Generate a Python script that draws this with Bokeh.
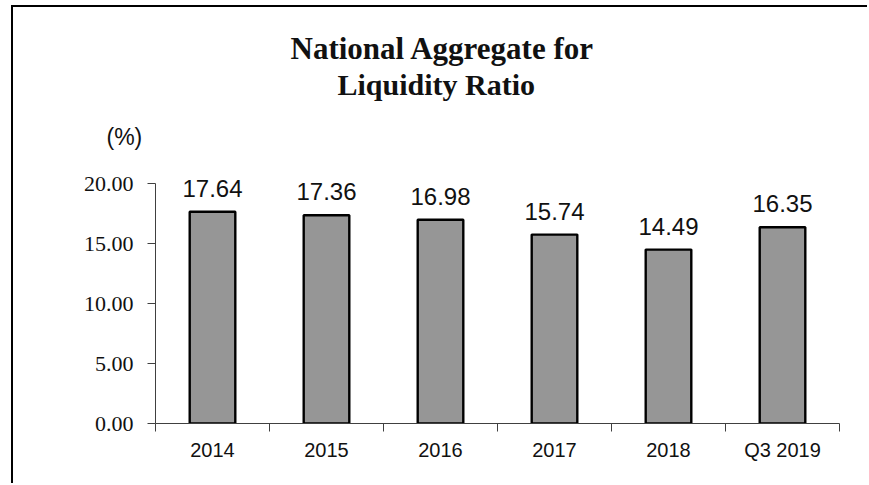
from bokeh.plotting import figure
from bokeh.models import ColumnDataSource, FixedTicker, PrintfTickFormatter, LabelSet, Range1d, Title
from bokeh.core.properties import value
from bokeh.embed import file_html
from bokeh.resources import INLINE

categories = ["2014", "2015", "2016", "2017", "2018", "Q3 2019"]
values = [17.64, 17.36, 16.98, 15.74, 14.49, 16.35]
value_labels = ["17.64", "17.36", "16.98", "15.74", "14.49", "16.35"]
y_ticks = [0, 5, 10, 15, 20]
title_lines = ["National Aggregate for", "Liquidity Ratio"]
unit_label = "(%)"

centers = [i + 0.5 for i in range(len(categories))]
bounds = [i for i in range(len(categories) + 1)]

src = ColumnDataSource(dict(x=centers, top=values, label=value_labels))

W, H = 856, 478
ML, MT = 142, 164          # frame left / top inside canvas
FW, FH = 684, 252          # frame size
p = figure(width=W, height=H, output_backend="svg", toolbar_location=None,
           title=None, x_range=Range1d(0, len(categories)), y_range=Range1d(0, 21),
           min_border_left=ML, min_border_right=W - ML - FW, min_border_top=MT,
           min_border_bottom=H - MT - FH)
p.styles = {"border-top": "2px solid black", "border-left": "2px solid black",
            "margin-top": "5px", "margin-left": "11px"}
p.outline_line_color = None
p.grid.visible = False
p.background_fill_color = "white"
p.border_fill_color = "white"

p.vbar(x="x", top="top", width=0.4, bottom=0, source=src,
       fill_color="#969696", line_color="black", line_width=2.4)

p.add_layout(LabelSet(x="x", y="top", text="label", source=src, y_offset=15,
                      text_align="center", text_baseline="alphabetic",
                      text_font=value("Liberation Sans"), text_font_size=value("24px"),
                      text_color="#111111"))

ax = p.yaxis[0]
ax.ticker = FixedTicker(ticks=y_ticks)
ax.formatter = PrintfTickFormatter(format="%.2f")
ax.bounds = (0, 20)
ax.major_tick_out = 8
ax.major_tick_in = 0
ax.minor_tick_out = 0
ax.minor_tick_in = 0
ax.major_label_standoff = 14
ax.major_label_text_font = "Liberation Serif"
ax.major_label_text_font_size = "22px"
ax.major_label_text_color = "#111111"
ax.axis_line_color = "#404040"
ax.major_tick_line_color = "#404040"

bx = p.xaxis[0]
bx.ticker = FixedTicker(ticks=centers, minor_ticks=bounds)
bx.major_label_overrides = {c: cat for c, cat in zip(centers, categories)}
bx.major_tick_out = 0
bx.major_tick_in = 0
bx.minor_tick_out = 8
bx.minor_tick_in = 0
bx.major_label_standoff = 7
bx.major_label_text_font = "Liberation Sans"
bx.major_label_text_font_size = "20px"
bx.major_label_text_color = "#111111"
bx.axis_line_color = "#404040"
bx.minor_tick_line_color = "#404040"

# headings as titles stacked above the frame (first added = nearest the frame)
p.add_layout(Title(text=unit_label, align="left", offset=-49, standoff=43,
                   text_font="Liberation Sans", text_font_style="normal",
                   text_font_size="23px", text_color="#111111"), "above")
p.add_layout(Title(text=title_lines[1], align="left", offset=182, standoff=0,
                   text_font="Liberation Serif", text_font_style="bold",
                   text_font_size="30px", text_color="#111111"), "above")
p.add_layout(Title(text=title_lines[0], align="left", offset=135, standoff=0,
                   text_font="Liberation Serif", text_font_style="bold",
                   text_font_size="31px", text_color="#111111"), "above")

open("out.html", "w").write(file_html(p, INLINE))
